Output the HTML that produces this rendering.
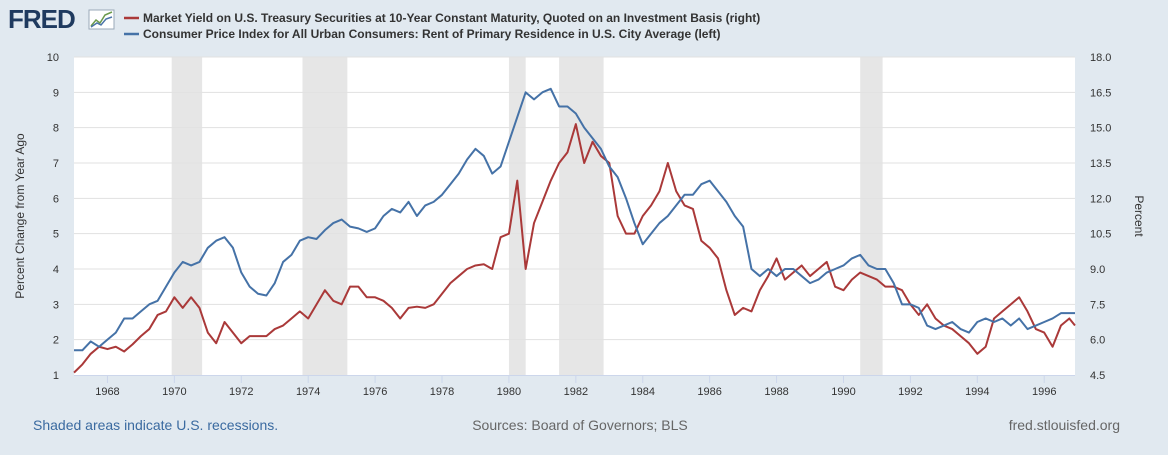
<!DOCTYPE html>
<html><head><meta charset="utf-8">
<style>
body{margin:0;width:1168px;height:450px;background:#e1e9f0;font-family:"Liberation Sans",Arial,sans-serif;overflow:hidden}
</style></head>
<body>
<svg id="c" width="1168" height="450" xmlns="http://www.w3.org/2000/svg">
<g>
<text x="8" y="28" font-size="26" font-weight="bold" fill="#1f3a5f" font-family="Liberation Sans, sans-serif" letter-spacing="-1">FRED</text>
<rect x="89" y="10" width="25" height="19" fill="#fff" stroke="#9aa9b8" stroke-width="1"/>
<polyline points="91,26 96,20 100,23 105,15 112,12" fill="none" stroke="#6b9a4c" stroke-width="1.5"/>
<polyline points="91,27 97,23 101,25 106,19 112,17" fill="none" stroke="#4a74a8" stroke-width="1.5"/>
</g>
<g>
<line x1="124" y1="18" x2="139" y2="18" stroke="#aa3939" stroke-width="2.5"/>
<text x="143" y="22" font-size="12" font-weight="bold" fill="#333">Market Yield on U.S. Treasury Securities at 10-Year Constant Maturity, Quoted on an Investment Basis (right)</text>
<line x1="124" y1="34" x2="139" y2="34" stroke="#4572a7" stroke-width="2.5"/>
<text x="143" y="38" font-size="12" font-weight="bold" fill="#333">Consumer Price Index for All Urban Consumers: Rent of Primary Residence in U.S. City Average (left)</text>
</g>
<rect x="74" y="57" width="1001" height="318" fill="#fff"/>
<g id="rec"></g><g id="grid"></g><g id="axes"></g><g id="series"></g>
<text transform="translate(24,216) rotate(-90)" text-anchor="middle" font-size="12" fill="#333">Percent Change from Year Ago</text>
<text transform="translate(1135,216) rotate(90)" text-anchor="middle" font-size="12" fill="#333">Percent</text>
<text x="33" y="430" font-size="14" fill="#3a6aa0">Shaded areas indicate U.S. recessions.</text>
<text x="580" y="430" text-anchor="middle" font-size="14" fill="#666">Sources: Board of Governors; BLS</text>
<text x="1120" y="430" text-anchor="end" font-size="14" fill="#666">fred.stlouisfed.org</text>
</svg>
<script>
const dates=[1967,1967.25,1967.5,1967.75,1968,1968.25,1968.5,1968.75,1969,1969.25,1969.5,1969.75,1970,1970.25,1970.5,1970.75,1971,1971.25,1971.5,1971.75,1972,1972.25,1972.5,1972.75,1973,1973.25,1973.5,1973.75,1974,1974.25,1974.5,1974.75,1975,1975.25,1975.5,1975.75,1976,1976.25,1976.5,1976.75,1977,1977.25,1977.5,1977.75,1978,1978.25,1978.5,1978.75,1979,1979.25,1979.5,1979.75,1980,1980.25,1980.5,1980.75,1981,1981.25,1981.5,1981.75,1982,1982.25,1982.5,1982.75,1983,1983.25,1983.5,1983.75,1984,1984.25,1984.5,1984.75,1985,1985.25,1985.5,1985.75,1986,1986.25,1986.5,1986.75,1987,1987.25,1987.5,1987.75,1988,1988.25,1988.5,1988.75,1989,1989.25,1989.5,1989.75,1990,1990.25,1990.5,1990.75,1991,1991.25,1991.5,1991.75,1992,1992.25,1992.5,1992.75,1993,1993.25,1993.5,1993.75,1994,1994.25,1994.5,1994.75,1995,1995.25,1995.5,1995.75,1996,1996.25,1996.5,1996.75,1996.92];
const rentYoY=[1.7,1.7,1.95,1.8,2.0,2.2,2.6,2.6,2.8,3.0,3.1,3.5,3.9,4.2,4.1,4.2,4.6,4.8,4.9,4.6,3.9,3.5,3.3,3.25,3.6,4.2,4.4,4.8,4.9,4.85,5.1,5.3,5.4,5.2,5.15,5.05,5.15,5.5,5.7,5.6,5.9,5.5,5.8,5.9,6.1,6.4,6.7,7.1,7.4,7.2,6.7,6.9,7.6,8.3,9.0,8.8,9.0,9.1,8.6,8.6,8.4,8.0,7.7,7.4,6.9,6.6,6.0,5.3,4.7,5.0,5.3,5.5,5.8,6.1,6.1,6.4,6.5,6.2,5.9,5.5,5.2,4.0,3.8,4.0,3.8,4.0,4.0,3.8,3.6,3.7,3.9,4.0,4.1,4.3,4.4,4.1,4.0,4.0,3.6,3.0,3.0,2.9,2.4,2.3,2.4,2.5,2.3,2.2,2.5,2.6,2.5,2.6,2.4,2.6,2.3,2.4,2.5,2.6,2.75,2.75,2.75];
const yield10=[4.6,4.95,5.4,5.7,5.6,5.7,5.5,5.8,6.15,6.45,7.05,7.2,7.8,7.35,7.8,7.35,6.3,5.85,6.75,6.3,5.85,6.15,6.15,6.15,6.45,6.6,6.9,7.2,6.9,7.5,8.1,7.65,7.5,8.25,8.25,7.8,7.8,7.65,7.35,6.9,7.35,7.4,7.35,7.5,7.95,8.4,8.7,9.0,9.15,9.2,9.0,10.35,10.5,12.75,9.0,10.95,11.85,12.75,13.5,13.95,15.15,13.5,14.4,13.8,13.5,11.25,10.5,10.5,11.25,11.7,12.3,13.5,12.3,11.7,11.55,10.2,9.9,9.45,8.1,7.05,7.35,7.2,8.1,8.7,9.45,8.55,8.85,9.15,8.7,9.0,9.3,8.25,8.1,8.55,8.85,8.7,8.55,8.25,8.25,8.1,7.5,7.05,7.5,6.9,6.6,6.45,6.15,5.85,5.4,5.7,6.9,7.2,7.5,7.8,7.2,6.45,6.3,5.7,6.6,6.9,6.6,6.3];
const recStart=[1969.92,1973.83,1980.0,1981.5,1990.5];
const recEnd=[1970.83,1975.17,1980.5,1982.83,1991.17];
const leftTicks=[1,2,3,4,5,6,7,8,9,10];
const rightTicks=["4.5","6.0","7.5","9.0","10.5","12.0","13.5","15.0","16.5","18.0"];
const xTicks=[1968,1970,1972,1974,1976,1978,1980,1982,1984,1986,1988,1990,1992,1994,1996];
const X0=74,X1=1075,Y0=57,Y1=375;
const xs=d=>X0+(d-1967)/(1996.92-1967)*(X1-X0);
const yL=v=>Y1-(v-1)/9*(Y1-Y0);
const yR=v=>Y1-(v-4.5)/13.5*(Y1-Y0);
const NS="http://www.w3.org/2000/svg";
function mk(p,t,a){const e=document.createElementNS(NS,t);for(const k in a)e.setAttribute(k,a[k]);p.appendChild(e);return e;}
const rec=document.getElementById('rec'),grid=document.getElementById('grid'),axes=document.getElementById('axes'),ser=document.getElementById('series');
recStart.forEach((s,i)=>{const r=mk(rec,'rect',{x:xs(s),y:Y0,width:xs(recEnd[i])-xs(s),height:Y1-Y0,fill:'#e6e6e6'});

});
leftTicks.forEach((v,i)=>{const y=yL(v);
if(i>0){const l=mk(grid,'line',{x1:X0,x2:X1,y1:y,y2:y,stroke:'#e1e1e1','stroke-width':1});

}
const t=mk(axes,'text',{x:59,y:y+4,'text-anchor':'end','font-size':11,fill:'#333'});t.textContent=v;


const t2=mk(axes,'text',{x:1090,y:yR(parseFloat(rightTicks[i]))+4,'font-size':11,fill:'#333'});t2.textContent=rightTicks[i];

});
mk(axes,'line',{x1:X0,x2:X1,y1:Y1+0.5,y2:Y1+0.5,stroke:'#ccd6eb','stroke-width':1});
xTicks.forEach(v=>{const x=xs(v);
mk(axes,'line',{x1:x,x2:x,y1:Y1,y2:Y1+8,stroke:'#ccd6eb','stroke-width':1});
const t=mk(axes,'text',{x:x,y:Y1+20,'text-anchor':'middle','font-size':11,fill:'#333'});t.textContent=v;

});
const p1=mk(ser,'polyline',{points:dates.map((d,i)=>xs(d)+','+yR(yield10[i])).join(' '),fill:'none',stroke:'#aa3939','stroke-width':2,'stroke-linejoin':'round'});


const p2=mk(ser,'polyline',{points:dates.map((d,i)=>xs(d)+','+yL(rentYoY[i])).join(' '),fill:'none',stroke:'#4572a7','stroke-width':2,'stroke-linejoin':'round'});


</script>
</body></html>
